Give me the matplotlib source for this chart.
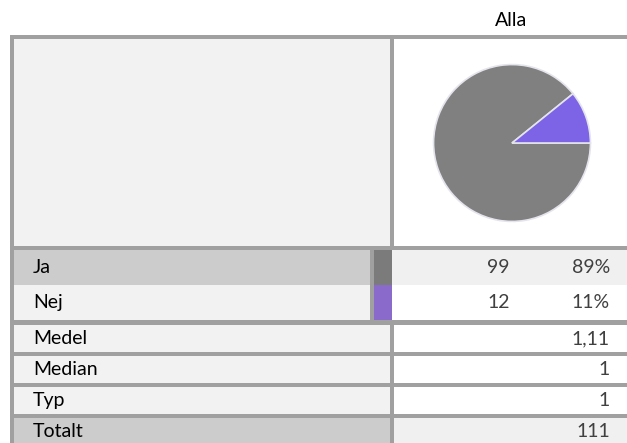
import matplotlib
matplotlib.use('Agg')
from matplotlib import pyplot as plt
from matplotlib.patches import Rectangle

# data
column = 'Alla'
answers = ['Ja', 'Nej']
counts = [99, 12]
percents = ['89%', '11%']
answer_colors = ['#7b7b7b', '#8a6bcc']
pie_colors = ['#808080', '#7d63e6']
stat_labels = ['Medel', 'Median', 'Typ', 'Totalt']
stat_values = ['1,11', '1', '1', '111']

W, H = 627, 443
BORDER = '#a0a0a0'
LIGHT = '#f2f2f2'
DARK = '#cccccc'
FS = 14

plt.rcParams['font.family'] = ['Lato', 'DejaVu Sans']

fig = plt.figure(figsize=(W / 100, H / 100), dpi=100)
ax = fig.add_axes([0, 0, 1, 1])
ax.set_xlim(0, W)
ax.set_ylim(H, 0)
ax.axis('off')


def rect(x0, y0, x1, y1, color):
    ax.add_patch(Rectangle((x0, y0), x1 - x0, y1 - y0, facecolor=color,
                           edgecolor='none', linewidth=0))


# grid background shows through as the border lines
left, top, split = 10, 35, 390
rect(left, top, W, H, BORDER)
ax.text(511, 20, column, ha='center', va='center', fontsize=FS, color='black')

# pie cell
rect(left + 4, top + 4, split, 246, LIGHT)
rect(split + 4, top + 4, W, 246, 'white')

# answer rows
row_h = 35
y = 250
for i, label in enumerate(answers):
    lc = DARK if i == 0 else LIGHT
    rc = '#f0f0f0' if i == 0 else 'white'
    rect(left + 4, y, 370, y + row_h, lc)
    rect(374, y, 392, y + row_h, answer_colors[i])
    rect(392, y, W, y + row_h, rc)
    cy = y + row_h / 2
    ax.text(33, cy, label, ha='left', va='center', fontsize=FS, color='black')
    ax.text(510, cy, str(counts[i]), ha='right', va='center', fontsize=FS, color='#404040')
    ax.text(610, cy, percents[i], ha='right', va='center', fontsize=FS, color='#404040')
    y += row_h

# stat rows
y += 5
stat_h = 27
for i, label in enumerate(stat_labels):
    last = i == len(stat_labels) - 1
    rect(left + 4, y, split, y + stat_h, DARK if last else LIGHT)
    rect(split + 4, y, W, y + stat_h, '#f0f0f0' if last else 'white')
    cy = y + stat_h / 2
    ax.text(33, cy, label, ha='left', va='center', fontsize=FS, color='black')
    ax.text(610, cy, stat_values[i], ha='right', va='center', fontsize=FS, color='#404040')
    y += stat_h + 4

# pie
cx, cyp, r = 512, 143, 80
pax = fig.add_axes([(cx - r) / W, (H - cyp - r) / H, 2 * r / W, 2 * r / H])
pax.pie(counts, colors=pie_colors, startangle=0, counterclock=False,
        wedgeprops=dict(edgecolor='#e4e4ec', linewidth=1.2))
pax.set_xlim(-1.02, 1.02)
pax.set_ylim(-1.02, 1.02)
pax.set_aspect('equal')

fig.savefig('out.png', dpi=100)
